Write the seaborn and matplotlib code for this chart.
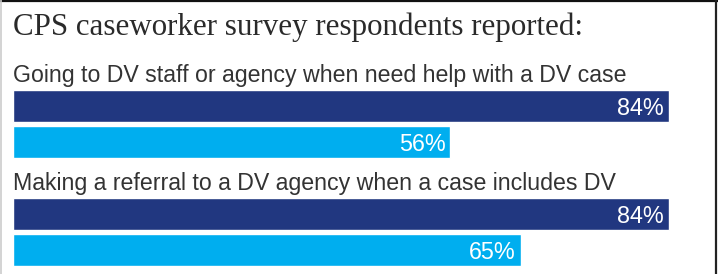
import matplotlib
matplotlib.use("Agg")
import matplotlib.pyplot as plt
import seaborn as sns
import pandas as pd
from matplotlib.lines import Line2D

# ---- data ----
title = "CPS caseworker survey respondents reported:"
categories = [
    "Going to DV staff or agency when need help with a DV case",
    "Making a referral to a DV agency when a case includes DV",
]
series_names = ["Group A", "Group B"]
series_a = [84, 84]
series_b = [56, 65]
value_labels_a = ["84%", "84%"]
value_labels_b = ["56%", "65%"]

colors = {"Group A": "#213780", "Group B": "#00AEEF"}

# ---- build table: one label slot + two bar slots per category ----
rows = []
order = []
for ci, cat in enumerate(categories):
    order += [f"c{ci}_label", f"c{ci}_a", f"c{ci}_b"]
    rows.append({"slot": f"c{ci}_a", "value": series_a[ci], "series": series_names[0], "label": value_labels_a[ci]})
    rows.append({"slot": f"c{ci}_b", "value": series_b[ci], "series": series_names[1], "label": value_labels_b[ci]})
df = pd.DataFrame(rows)

sns.set_theme(style="white")
plt.rcParams["font.family"] = ["Liberation Sans", "DejaVu Sans"]

W, H = 718, 274
fig = plt.figure(figsize=(W / 100, H / 100), dpi=100)
ax = fig.add_axes([13 / W, 0, (W - 13) / W, 1])

sns.barplot(data=df, x="value", y="slot", hue="series", order=order,
            palette=colors, dodge=False, width=32 / 36, orient="h",
            legend=False, saturation=1, ax=ax)

# scale: 0..100% maps 0..781 px
ax.set_xlim(0, (W - 13) / 7.81)
pitch = 36.0
first_center = 70.0
ax.set_ylim((H - first_center) / pitch, -first_center / pitch)
ax.axis("off")

# value labels inside bars
for _, r in df.iterrows():
    idx = order.index(r["slot"])
    ax.annotate(r["label"], xy=(r["value"], idx), xytext=(-5, 0),
                textcoords="offset pixels", ha="right", va="center_baseline",
                color="white", fontsize=16.8)

# category labels
for ci, cat in enumerate(categories):
    idx = order.index(f"c{ci}_label")
    ax.text(0, idx + 0.32, cat, ha="left", va="baseline",
            color="#333333", fontsize=16.7)

# title
fig.text(13 / W, 1 - 35 / H, title, ha="left", va="baseline",
         family=["Liberation Serif", "DejaVu Serif"], fontsize=22.3,
         color="#2a2a2a")

# frame lines
fig.add_artist(Line2D([0, 1], [1 - 1 / H, 1 - 1 / H], transform=fig.transFigure,
                      color="#111111", lw=1.6))
fig.add_artist(Line2D([716 / W, 716 / W], [0, 1], transform=fig.transFigure,
                      color="#222222", lw=1.6))
fig.add_artist(Line2D([1 / W, 1 / W], [0, 1], transform=fig.transFigure,
                      color="#cccccc", lw=1.2))

fig.savefig("out.png", dpi=100)
